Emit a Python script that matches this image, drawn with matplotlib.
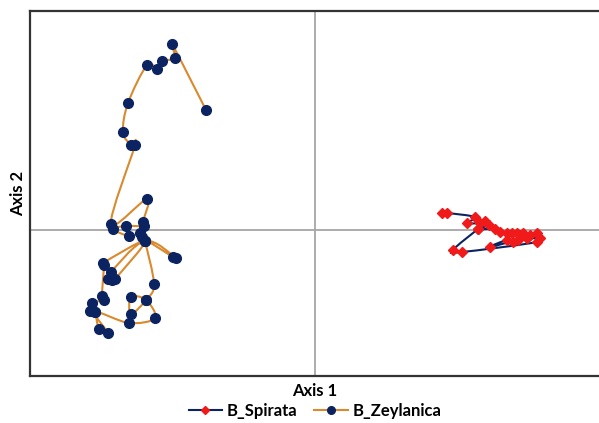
"""Ordination plot of B_Spirata and B_Zeylanica on Axis 1 / Axis 2"""

import matplotlib
matplotlib.use('Agg')
import matplotlib.pyplot as plt
from matplotlib.path import Path
from matplotlib.patches import PathPatch

# Scores (Axis 1, Axis 2), in the order they are joined
spirata_x = [1.27, 1.32, 1.60, 1.52, 1.65, 1.70, 1.74, 1.63, 1.80, 1.85, 1.92, 1.97,
             2.02, 2.05, 2.08, 2.15, 2.22, 2.25, 2.12, 2.03, 1.98, 1.92, 1.75, 2.12,
             2.22, 1.47, 1.38, 1.63]
spirata_y = [0.17, 0.17, 0.13, 0.07, 0.07, 0.09, 0.05, 0.01, 0.01, -0.02, -0.03, -0.03,
             -0.03, -0.05, -0.03, -0.05, -0.03, -0.08, -0.08, -0.10, -0.12, -0.10, -0.17,
             -0.08, -0.12, -0.22, -0.20, 0.01]

zeylanica_x = [-1.09, -1.43, -1.40, -1.53, -1.58, -1.68, -1.87, -1.92, -1.84, -1.80,
               -2.04, -1.68, -1.72, -1.71, -1.89, -2.02, -1.86, -1.75, -1.73, -1.42, -1.39,
               -1.70, -2.04, -2.07, -2.03, -2.00, -1.70, -2.12, -2.11, -2.13, -2.11, -2.23,
               -2.25, -2.20, -2.16, -2.07, -2.20, -1.86, -1.60, -1.69, -1.84, -1.84, -1.69,
               -1.61, -1.70]
zeylanica_y = [1.20, 1.86, 1.72, 1.69, 1.61, 1.65, 1.27, 0.98, 0.85, 0.85,
               0.06, 0.31, 0.08, 0.04, 0.04, 0.01, -0.06, -0.03, -0.07, -0.27, -0.28,
               -0.11, -0.42, -0.49, -0.50, -0.49, -0.11, -0.33, -0.35, -0.66, -0.70, -0.73,
               -0.81, -0.82, -0.99, -1.03, -0.82, -0.93, -0.88, -0.70, -0.67, -0.84, -0.70,
               -0.54, -0.11]

navy = '#0b2461'
orange = '#d98a2e'
red = '#f01a1a'
font = 'Lato'


def smooth_path(xs, ys):
    """Сглаженная линия как в Excel: кривые Безье через точки (Catmull-Rom)"""
    pts = list(zip(xs, ys))
    verts = [pts[0]]
    codes = [Path.MOVETO]
    n = len(pts)
    for i in range(n - 1):
        p0 = pts[max(i - 1, 0)]
        p1 = pts[i]
        p2 = pts[i + 1]
        p3 = pts[min(i + 2, n - 1)]
        c1 = (p1[0] + (p2[0] - p0[0]) / 6, p1[1] + (p2[1] - p0[1]) / 6)
        c2 = (p2[0] - (p3[0] - p1[0]) / 6, p2[1] - (p3[1] - p1[1]) / 6)
        verts += [c1, c2, p2]
        codes += [Path.CURVE4] * 3
    return Path(verts, codes)


fig = plt.figure(figsize=(5.99, 4.23), dpi=100)
ax = fig.add_axes([30 / 599, 47 / 423, 569 / 599, 365 / 423])

# Линии осей через ноль
ax.axhline(0, color='#a6a6a6', lw=1.3, zorder=0)
ax.axvline(0, color='#a6a6a6', lw=1.3, zorder=0)

ax.add_patch(PathPatch(smooth_path(spirata_x, spirata_y), facecolor='none',
                       edgecolor=navy, lw=1.5, zorder=2))
ax.add_patch(PathPatch(smooth_path(zeylanica_x, zeylanica_y), facecolor='none',
                       edgecolor=orange, lw=1.5, zorder=2))

# Маркеры (и элементы легенды)
ax.plot(spirata_x, spirata_y, color=navy, lw=0, marker='D', markersize=5.5,
        markerfacecolor=red, markeredgecolor=red, zorder=3)
ax.plot(zeylanica_x, zeylanica_y, color=orange, lw=0, marker='o', markersize=7,
        markerfacecolor=navy, markeredgecolor=navy, zorder=3)
h1, = ax.plot([], [], color=navy, lw=1.5, marker='D', markersize=4.5,
              markerfacecolor=red, markeredgecolor=red, label='B_Spirata')
h2, = ax.plot([], [], color=orange, lw=1.5, marker='o', markersize=5.5,
              markerfacecolor=navy, markeredgecolor=navy, label='B_Zeylanica')

ax.set_xlim(-2.85, 2.84)
ax.set_ylim(-1.46, 2.19)
ax.set_xticks([])
ax.set_yticks([])
for side in ['left', 'top', 'bottom']:
    ax.spines[side].set_color('#333333')
    ax.spines[side].set_linewidth(1.6)
ax.spines['right'].set_visible(False)

ax.set_xlabel('Axis 1', fontsize=12, fontweight='bold', family=font, labelpad=5)
ax.set_ylabel('Axis 2', fontsize=12, fontweight='bold', family=font, labelpad=3)

fig.legend(handles=[h1, h2], loc='center', bbox_to_anchor=(315 / 599, 1 - 411 / 423),
           ncol=2, frameon=False, prop={'family': font, 'weight': 'bold', 'size': 12},
           handlelength=2.0, handletextpad=0.3, columnspacing=1.0, borderaxespad=0)

plt.savefig('out.png', dpi=100)
